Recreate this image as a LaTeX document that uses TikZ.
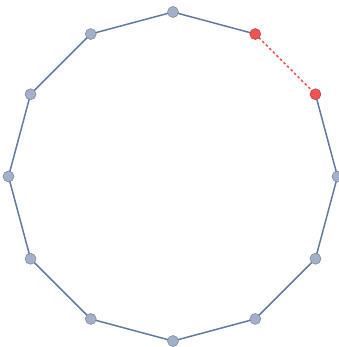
\documentclass[tikz,border=0pt]{standalone}
\begin{document}
\begin{tikzpicture}[x=1pt,y=-1pt,
  edge/.style={draw=edgecol,line width=1.5pt},
  redge/.style={draw=redcol,line width=1.5pt,dash pattern=on 2.5pt off 2.5pt},
  vtx/.style={circle,fill=vfill,draw=vdraw,line width=0.5pt,inner sep=0pt,minimum size=11pt},
  rvtx/.style={circle,fill=redcol,draw=rdraw,line width=0.5pt,inner sep=0pt,minimum size=11pt}]
\definecolor{edgecol}{RGB}{98,121,160}
\definecolor{vfill}{RGB}{163,176,204}
\definecolor{vdraw}{RGB}{120,130,150}
\definecolor{redcol}{RGB}{242,82,82}
\definecolor{rdraw}{RGB}{170,70,70}
\useasboundingbox (0,0) rectangle (338,347);
\foreach \k in {0,...,11} {
  \coordinate (c\k) at ({173+164.5*cos(90-30*\k)},{176.5-164.5*sin(90-30*\k)});
}
\foreach \k [evaluate=\k as \n using {int(mod(\k+1,12))}] in {0,2,3,4,5,6,7,8,9,10,11} {
  \draw[edge] (c\k) -- (c\n);
}
\draw[redge] (c1) -- (c2);
\foreach \k in {0,3,4,5,6,7,8,9,10,11} {
  \node[vtx] (v\k) at (c\k) {};
}
\node[rvtx] (v1) at (c1) {};
\node[rvtx] (v2) at (c2) {};
\end{tikzpicture}
\end{document}
